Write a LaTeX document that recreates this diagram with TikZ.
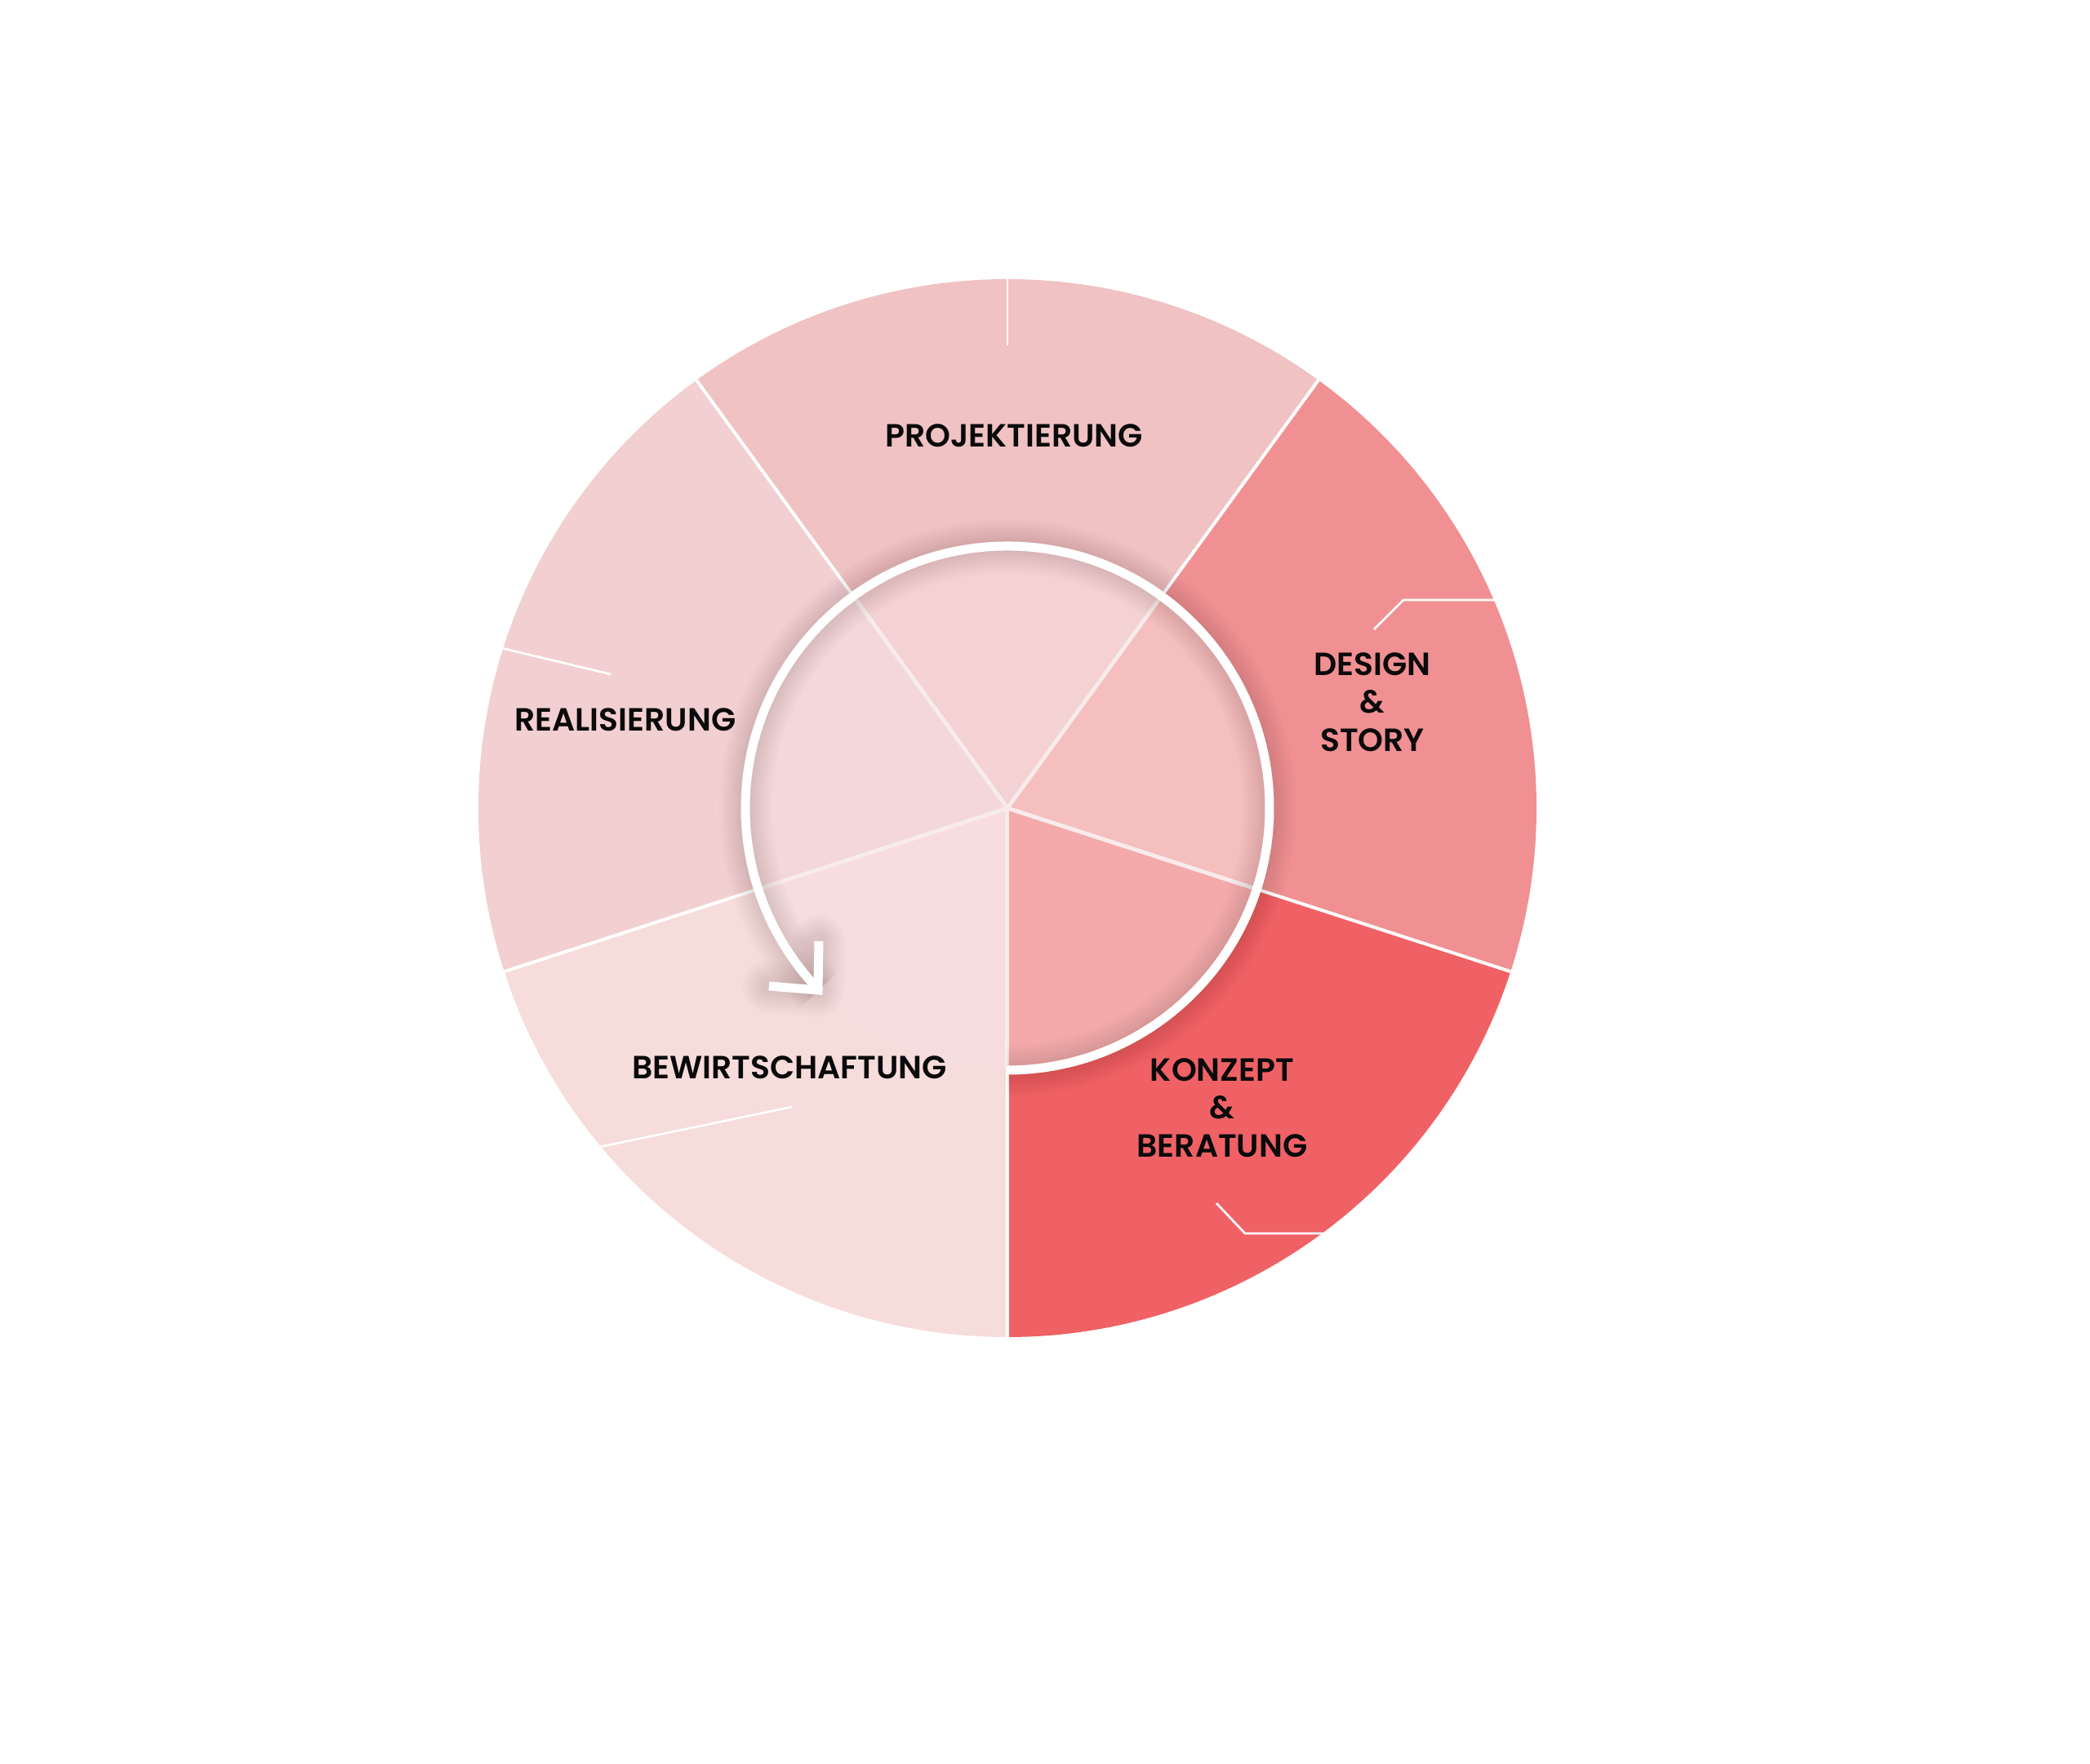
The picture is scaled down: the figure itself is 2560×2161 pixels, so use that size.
\documentclass[tikz,border=0pt]{standalone}
\usepackage{fontspec}
\newfontfamily\lab{Poppins SemiBold}
\definecolor{projO}{HTML}{F0C2C3}
\definecolor{projI}{HTML}{F4D1D2}
\definecolor{desO}{HTML}{F09092}
\definecolor{desI}{HTML}{F5BEBF}
\definecolor{konO}{HTML}{F06165}
\definecolor{konI}{HTML}{F4AAAB}
\definecolor{bewO}{HTML}{F7DCDC}
\definecolor{bewI}{HTML}{F8DDDE}
\definecolor{reaO}{HTML}{F2CFD0}
\definecolor{reaI}{HTML}{F4D7D8}
\definecolor{innerline}{HTML}{F8EBEB}
\definecolor{ink}{HTML}{0A0A0A}
\begin{document}
\begin{tikzpicture}[x=0.3pt,y=0.3pt,
  labelstyle/.style={font=\lab\fontsize{11.8}{13.9}\selectfont, text=ink, align=center, inner sep=0pt},
  outerline/.style={draw=white, line width=1.2pt},
  innerdiv/.style={draw=innerline, line width=1.5pt},
  decoline/.style={draw=white, line width=0.8pt},
  ringline/.style={draw=white, line width=3.3pt},
  shadowline/.style={draw=black, draw opacity=0.013}]
\useasboundingbox (-1234,-1171) rectangle (1326,990);
\fill[white] (-1234,-1171) rectangle (1326,990);
% outer sectors
\fill[projO] (0,0) -- (54:648) arc[start angle=54, end angle=126, radius=648] -- cycle;
\fill[reaO] (0,0) -- (126:648) arc[start angle=126, end angle=198, radius=648] -- cycle;
\fill[bewO] (0,0) -- (198:648) arc[start angle=198, end angle=270, radius=648] -- cycle;
\fill[konO] (0,0) -- (270:648) arc[start angle=270, end angle=342, radius=648] -- cycle;
\fill[desO] (0,0) -- (-18:648) arc[start angle=-18, end angle=54, radius=648] -- cycle;
% inner sectors
\fill[projI] (0,0) -- (54:321) arc[start angle=54, end angle=126, radius=321] -- cycle;
\fill[reaI] (0,0) -- (126:321) arc[start angle=126, end angle=198, radius=321] -- cycle;
\fill[bewI] (0,0) -- (198:321) arc[start angle=198, end angle=270, radius=321] -- cycle;
\fill[konI] (0,0) -- (270:321) arc[start angle=270, end angle=342, radius=321] -- cycle;
\fill[desI] (0,0) -- (-18:321) arc[start angle=-18, end angle=54, radius=321] -- cycle;
% dividing lines
\foreach \a in {54,126,198,270,342} {
  \draw[innerdiv] (0,0) -- (\a:318);
  \draw[outerline] (\a:318) -- (\a:648);
}
% decorative lines, clipped to the disc
\begin{scope}
  \clip (0,0) circle[radius=648];
  \draw[decoline] (0,660) -- (0,567);
  \draw[decoline] (449,219) -- (485,255) -- (640,255);
  \draw[decoline] (256,-484) -- (291,-521) -- (440,-521);
  \draw[decoline] (-640,201) -- (-486,164);
  \draw[decoline] (-520,-419.4) -- (-264,-366);
\end{scope}
% shadow of the ring and arrow head
\foreach \k in {1,...,9} {
  \pgfmathsetmacro\lw{(11+6*\k)*0.3}
  \draw[shadowline, line width=\lw pt]
    (-90:321) arc[start angle=-90, end angle=224, radius=321];
  \draw[shadowline, line width=\lw pt, line join=round, line cap=round]
    (-231,-163) -- (-232,-223) -- (-292,-218);
}
% ring with arrow
\draw[ringline] (-90:321) arc[start angle=-90, end angle=224, radius=321];
\draw[ringline, line join=miter] (-231,-163) -- (-232,-223) -- (-292,-218);
% labels
\node[labelstyle] (proj) at (8,456) {PROJEKTIERUNG};
\node[labelstyle] (rea) at (-468,108) {REALISIERUNG};
\node[labelstyle] (bew) at (-267,-318) {BEWIRTSCHAFTUNG};
\node[labelstyle] (des) at (447,130) {DESIGN\\\&\\STORY};
\node[labelstyle] (kon) at (263,-367) {KONZEPT\\\&\\BERATUNG};
\end{tikzpicture}
\end{document}
